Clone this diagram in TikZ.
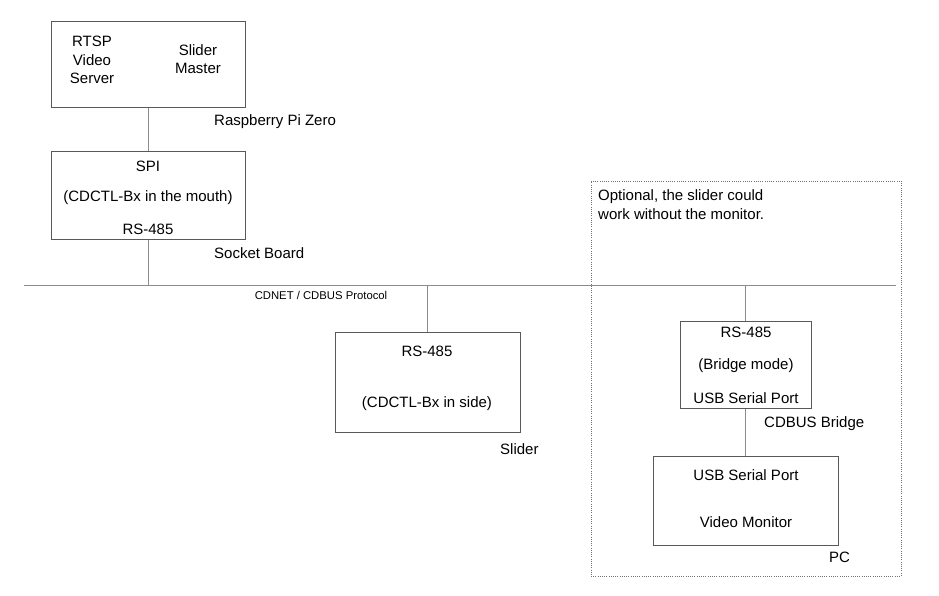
\documentclass[tikz,border=0pt]{standalone}
\usepackage{fontspec}
\setmainfont{Liberation Sans}
\usetikzlibrary{positioning}
\begin{document}
\begin{tikzpicture}[
    x=1pt, y=-1pt,
    every node/.style={font=\fontsize{15}{18.5}\selectfont, inner sep=0pt, text height=11pt, text depth=0pt},
    multi/.style={text height=, text depth=},
    box/.style={rectangle, draw=black!65, line width=1pt},
    label/.style={anchor=west},
    small/.style={font=\fontsize{11.3}{13}\selectfont, text height=8.2pt},
    wire/.style={draw=black!45, line width=1pt},
    optional/.style={draw=black!55, line width=0.8pt, dash pattern=on 1pt off 1.2pt}
]
    \useasboundingbox (0,0) rectangle (939,596);

    % Raspberry Pi Zero
    \node[box, minimum width=194, minimum height=86] (rpi) at (148,65) {};
    \node[multi, align=center] (rtsp) at (92,60) {RTSP\\Video\\Server};
    \node[multi, align=center] (master) at (198,59) {Slider\\Master};
    \node[label] (rpilbl) at (214,120) {Raspberry Pi Zero};

    % Socket Board
    \node[box, minimum width=194, minimum height=87] (sock) at (148,195.5) {};
    \node (sockspi) at (148,166) {SPI};
    \node (sockctl) at (148,196) {(CDCTL-Bx in the mouth)};
    \node (sockrs) at (148,229) {RS-485};
    \node[label] (socklbl) at (214,253) {Socket Board};

    % Bus
    \coordinate (busL) at (24,285);
    \coordinate (busR) at (896,285);
    \node[small] (buslbl) at (321,295) {CDNET / CDBUS Protocol};

    % Slider
    \node[box, minimum width=185, minimum height=100] (slider) at (427.5,382) {};
    \node (sliderrs) at (427,351) {RS-485};
    \node (sliderctl) at (427,402) {(CDCTL-Bx in side)};
    \node[label] (sliderlbl) at (500,449) {Slider};

    % Optional part
    \node[optional, rectangle, minimum width=310, minimum height=395] (opt) at (746,378.5) {};
    \node[label, multi, align=left] (optlbl) at (598,204.5) {Optional, the slider could\\work without the monitor.};

    % CDBUS Bridge
    \node[box, minimum width=131, minimum height=87] (bridge) at (745.5,364.5) {};
    \node (bridgers) at (746,332) {RS-485};
    \node (bridgemode) at (746,364) {(Bridge mode)};
    \node (bridgeusb) at (746,398) {USB Serial Port};
    \node[label] (bridgelbl) at (764,422) {CDBUS Bridge};

    % PC
    \node[box, minimum width=185, minimum height=89] (pc) at (745.5,500.5) {};
    \node (pcusb) at (746,475) {USB Serial Port};
    \node (pcmon) at (746,522) {Video Monitor};
    \node[label] (pclbl) at (829,557) {PC};

    % Connections
    \draw[wire] (busL) -- (busR);
    \draw[wire] (rpi) -- (sock);
    \draw[wire] (sock.south) -- (sock.south |- busL);
    \draw[wire] (slider.north) -- (slider.north |- busL);
    \draw[wire] (bridge.north) -- (bridge.north |- busL);
    \draw[wire] (bridge) -- (pc);
\end{tikzpicture}
\end{document}
